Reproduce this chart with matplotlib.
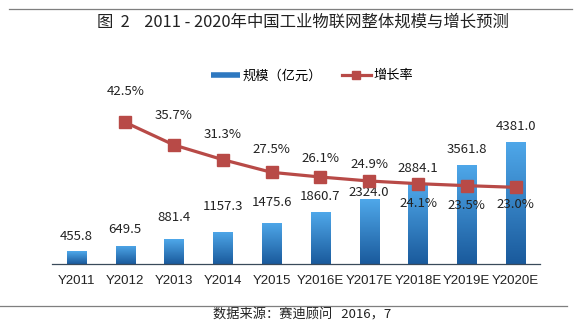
import matplotlib
matplotlib.use("Agg")
import matplotlib.pyplot as plt
import numpy as np
from matplotlib.lines import Line2D
from matplotlib.colors import LinearSegmentedColormap

# ---- data ----
categories = ["Y2011", "Y2012", "Y2013", "Y2014", "Y2015",
              "Y2016E", "Y2017E", "Y2018E", "Y2019E", "Y2020E"]
scale_values = [455.8, 649.5, 881.4, 1157.3, 1475.6,
                1860.7, 2324.0, 2884.1, 3561.8, 4381.0]
rate_categories = categories[1:]
rate_values = [42.5, 35.7, 31.3, 27.5, 26.1, 24.9, 24.1, 23.5, 23.0]

title_text = "图  2    2011 - 2020年中国工业物联网整体规模与增长预测"
source_text = "数据来源：赛迪顾问   2016，7"
legend_bar = "规模（亿元）"
legend_line = "增长率"

# ---- style ----
CJK = ["Noto Sans CJK SC", "DejaVu Sans"]
LAT = ["Liberation Sans", "DejaVu Sans"]
line_color = "#b84a47"
bar_top = "#4fa8ea"
bar_bottom = "#1a5a9c"
# label offsets in points (positive = above)
bar_label_dy = [11, 11.5, 16, 18, 15, 11, 5, 11, 11, 11.5]
rate_label_dy = [22, 21.5, 18, 16.5, 13.5, 12, -14.5, -14, -12.5]

W, H = 581, 324
fig = plt.figure(figsize=(W / 100, H / 100), dpi=100)
ax = fig.add_axes([52 / W, 1 - 264 / H, (540 - 52) / W, (264 - 90) / H])
ax2 = ax.twinx()

x = np.arange(len(categories))
bars = ax.bar(x, scale_values, width=0.39, color=bar_top, zorder=2)

cmap = LinearSegmentedColormap.from_list("g", [bar_bottom, bar_top])
grad = np.linspace(0, 1, 256).reshape(-1, 1)
for b in bars:
    x0, y0, w, h = b.get_x(), b.get_y(), b.get_width(), b.get_height()
    im = ax.imshow(grad, extent=[x0, x0 + w, y0, y0 + h], origin="lower",
                   cmap=cmap, aspect="auto", zorder=2.1)
    im.set_clip_path(b)
ax.set_xlim(-0.5, len(categories) - 0.5)
ax.set_ylim(0, 6248)
ax2.set_ylim(0, 52.2)

for xi, v, dy in zip(x, scale_values, bar_label_dy):
    ax.annotate(f"{v:.1f}", (xi, v), xytext=(0, dy), textcoords="offset points",
                ha="center", va="center", fontsize=9.5, family=CJK, color="#222222")

xr = np.array([categories.index(c) for c in rate_categories])
ax2.plot(xr, rate_values, color=line_color, lw=2.3, marker="s", markersize=8,
         markerfacecolor=line_color, markeredgecolor=line_color, zorder=3)
for xi, v, dy in zip(xr, rate_values, rate_label_dy):
    ax2.annotate(f"{v:.1f}%", (xi, v), xytext=(0, dy), textcoords="offset points",
                 ha="center", va="center", fontsize=9.5, family=CJK, color="#222222")

for a in (ax, ax2):
    for s in ("top", "right", "left"):
        a.spines[s].set_visible(False)
    a.set_yticks([])
ax2.spines["bottom"].set_visible(False)
ax.spines["bottom"].set_color("#3a4a5a")
ax.spines["bottom"].set_linewidth(0.9)
ax.set_xticks(x)
ax.set_xticklabels(categories, family=LAT, fontsize=9.5, color="#222222")
ax.tick_params(axis="x", length=0, pad=8)

handles = [Line2D([0], [0], color="#2e78c0", lw=4, solid_capstyle="butt"),
           Line2D([0], [0], color=line_color, lw=2.3, marker="s", markersize=6)]
fig.legend(handles, [legend_bar, legend_line], loc="center",
           bbox_to_anchor=(312 / W, 1 - 76 / H), ncol=2, frameon=False,
           prop={"family": CJK, "size": 9.5}, handlelength=2.2, columnspacing=1.5,
           handletextpad=0.2)

fig.text(303 / W, 1 - 22 / H, title_text, ha="center", va="center",
         fontsize=11.8, family=CJK, color="#222222")
fig.text(302 / W, 1 - 315 / H, source_text, ha="center", va="center",
         fontsize=9.5, family=CJK, color="#222222")

fig.add_artist(Line2D([9 / W, 572 / W], [1 - 9.3 / H, 1 - 9.3 / H],
                      color="#7f7f7f", lw=0.9, transform=fig.transFigure))
fig.add_artist(Line2D([0, 567 / W], [1 - 306 / H, 1 - 306 / H],
                      color="#7f7f7f", lw=0.9, transform=fig.transFigure))

fig.savefig("out.png", dpi=100, facecolor="white")
